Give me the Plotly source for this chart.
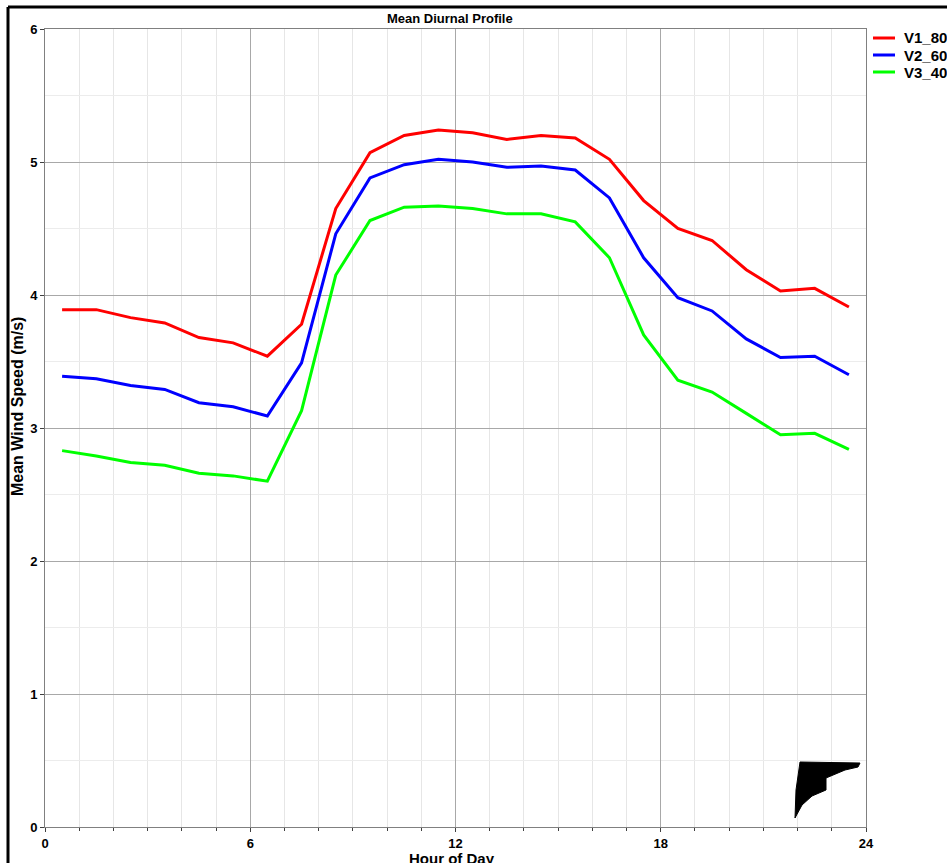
import plotly.graph_objects as go

hours = [h + 0.5 for h in range(24)]
v1_80m = [3.89, 3.89, 3.83, 3.79, 3.68, 3.64, 3.54, 3.78, 4.65, 5.07, 5.20, 5.24,
          5.22, 5.17, 5.20, 5.18, 5.02, 4.71, 4.50, 4.41, 4.19, 4.03, 4.05, 3.91]
v2_60m = [3.39, 3.37, 3.32, 3.29, 3.19, 3.16, 3.09, 3.49, 4.46, 4.88, 4.98, 5.02,
          5.00, 4.96, 4.97, 4.94, 4.73, 4.28, 3.98, 3.88, 3.67, 3.53, 3.54, 3.40]
v3_40m = [2.83, 2.79, 2.74, 2.72, 2.66, 2.64, 2.60, 3.13, 4.15, 4.56, 4.66, 4.67,
          4.65, 4.61, 4.61, 4.55, 4.28, 3.70, 3.36, 3.27, 3.11, 2.95, 2.96, 2.84]
series_names = ["V1_80m", "V2_60m", "V3_40m"]
series_colors = ["#ff0000", "#0000ff", "#00ff00"]

W, H = 947, 863
L, R, T, B = 45, 866, 29, 827
FONT = "Liberation Sans, Arial, sans-serif"

fig = go.Figure()
for name, vals, col in zip(series_names, [v1_80m, v2_60m, v3_40m], series_colors):
    fig.add_trace(go.Scatter(x=hours, y=vals, name=name, mode="lines",
                             line=dict(color=col, width=3), showlegend=False))

def px(x):
    return (x - L) / (R - L)

def py(y):
    return (B - y) / (B - T)

axis_common = dict(
    showline=True, linecolor="#808080", linewidth=1, mirror=True,
    showgrid=True, gridcolor="#a8a8a8", gridwidth=1,
    ticks="outside", ticklen=4, tickcolor="#404040",
    tickfont=dict(family=FONT, size=13, color="#000000", weight="bold"),
    zeroline=False,
)

fig.update_layout(
    width=W, height=H,
    margin=dict(l=L, r=W - R, t=T, b=H - B, autoexpand=False),
    paper_bgcolor="white", plot_bgcolor="white",
    showlegend=False,
    xaxis=dict(range=[0, 24], tickvals=[0, 6, 12, 18, 24],
               minor=dict(dtick=1, showgrid=True, gridcolor="#e6e6e6",
                          ticks="outside", ticklen=3, tickcolor="#404040"),
               **axis_common),
    yaxis=dict(range=[0, 6], dtick=1,
               minor=dict(dtick=0.5, showgrid=True, gridcolor="#ececec"),
               **axis_common),
)

# manual legend (rows close together as in the reference)
for i, (name, col) in enumerate(zip(series_names, series_colors)):
    yy = 38 + 17 * i
    fig.add_shape(type="line", xref="paper", yref="paper",
                  x0=px(873), x1=px(895), y0=py(yy), y1=py(yy),
                  line=dict(color=col, width=3))
    fig.add_annotation(text=name, x=px(902), y=py(yy), xref="paper", yref="paper",
                       xanchor="left", yanchor="middle", showarrow=False,
                       font=dict(family=FONT, size=15, color="#000000", weight="bold"))

fig.add_annotation(text="Mean Diurnal Profile", x=px(450), y=py(18), xref="paper", yref="paper",
                   showarrow=False, yanchor="middle",
                   font=dict(family=FONT, size=13, color="#000000", weight="bold"))
fig.add_annotation(text="Hour of Day", x=px(452), y=py(858), xref="paper", yref="paper",
                   showarrow=False, yanchor="middle",
                   font=dict(family=FONT, size=15, color="#000000", weight="bold"))
fig.add_annotation(text="Mean Wind Speed (m/s)", x=px(17), y=py(407), xref="paper", yref="paper",
                   showarrow=False, textangle=-90, xanchor="center", yanchor="middle",
                   font=dict(family=FONT, size=16, color="#000000", weight="bold"))

# outer frame lines (partially visible)
fig.add_shape(type="line", xref="paper", yref="paper", x0=px(8), x1=px(8), y0=py(7), y1=py(900),
              line=dict(color="black", width=3))
fig.add_shape(type="line", xref="paper", yref="paper", x0=px(8), x1=px(1000), y0=py(7), y1=py(7),
              line=dict(color="black", width=3))

# decorative black glyph in lower right
pts = [(800, 762), (860, 763), (858, 767), (845, 770), (826, 778), (826, 790),
       (812, 796), (802, 805), (795, 818), (796, 790)]
path = "M " + " L ".join(f"{px(x)},{py(y)}" for x, y in pts) + " Z"
fig.add_shape(type="path", xref="paper", yref="paper", path=path,
              fillcolor="black", line=dict(color="black", width=1))

fig.write_html("out.html")
